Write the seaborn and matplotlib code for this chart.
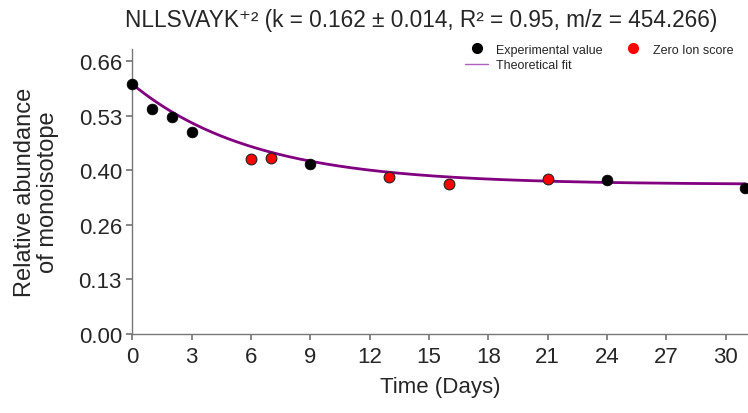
import numpy as np
import pandas as pd
import matplotlib
matplotlib.use("Agg")
import matplotlib.pyplot as plt
from matplotlib.lines import Line2D
import seaborn as sns

days = [0, 1, 2, 3, 6, 7, 9, 13, 16, 21, 24, 31]
abundance = [0.606, 0.544, 0.526, 0.489, 0.424, 0.427, 0.411, 0.380, 0.362, 0.376, 0.374, 0.354]
point_type = ["Experimental value"] * 4 + ["Zero Ion score"] * 2 + ["Experimental value"] \
    + ["Zero Ion score"] * 3 + ["Experimental value"] * 2

# Theoretical fit parameters (k from the title)
fit_k = 0.162
fit_plateau = 0.362
fit_amplitude = 0.243

y_ticks = [0.00, 0.13, 0.26, 0.40, 0.53, 0.66]
x_ticks = list(range(0, 31, 3))

df = pd.DataFrame({"Day": days, "Abundance": abundance, "Type": point_type})
t = np.linspace(0, 31, 300)
fit_df = pd.DataFrame({"Day": t, "Abundance": fit_plateau + fit_amplitude * np.exp(-fit_k * t)})

sns.set_theme(style="white")
plt.rcParams["font.family"] = ["Liberation Sans", "DejaVu Sans"]

fig = plt.figure(figsize=(7.48, 4.14), dpi=100)
ax = fig.add_axes([0.177, 0.191, 0.822, 0.688])

sns.lineplot(data=fit_df, x="Day", y="Abundance", color="#800080", linewidth=2,
             legend=False, ax=ax, zorder=2)
sns.scatterplot(data=df[df.Type == "Experimental value"], x="Day", y="Abundance",
                color="black", s=60, edgecolor="black", linewidth=0.5,
                ax=ax, zorder=3, clip_on=False, legend=False)
sns.scatterplot(data=df[df.Type == "Zero Ion score"], x="Day", y="Abundance",
                color="#ff0000", s=60, edgecolor="#222222", linewidth=0.8,
                ax=ax, zorder=3, clip_on=False, legend=False)

ax.set_xlim(0, 31.1)
ax.set_ylim(0, 0.69)
ax.set_xticks(x_ticks)
ax.set_yticks([0.66 * i / 5 for i in range(6)])
ax.set_yticklabels([f"{v:.2f}" for v in y_ticks])
ax.tick_params(axis="both", labelsize=16, length=4, color="#777777", direction="out",
               bottom=True, left=True)
ax.tick_params(axis="x", pad=5)
ax.set_xlabel("Time (Days)", fontsize=16, labelpad=6)
ax.set_ylabel("Relative abundance\nof monoisotope", fontsize=17, labelpad=14, linespacing=1.05)
fig.text(0.563, 0.95, "NLLSVAYK⁺² (k = 0.162 ± 0.014, R² = 0.95, m/z = 454.266)",
         fontsize=16.3, ha="center", va="center")

for side in ["top", "right"]:
    ax.spines[side].set_visible(False)
for side in ["left", "bottom"]:
    ax.spines[side].set_color("#777777")
    ax.spines[side].set_linewidth(1)

handles = [
    Line2D([], [], marker="o", color="black", linestyle="none", markersize=7),
    Line2D([], [], color="#b060c0", linewidth=1),
    Line2D([], [], marker="o", color="#ff0000", linestyle="none", markersize=7),
]
labels = ["Experimental value", "Theoretical fit", "Zero Ion score"]
fig.legend(handles, labels, ncol=2, fontsize=9, frameon=False, loc="upper left",
           bbox_to_anchor=(0.6217, 0.8925), bbox_transform=fig.transFigure,
           borderpad=0, borderaxespad=0, handlelength=1.85, handletextpad=0.62,
           columnspacing=1.54, labelspacing=0.3)

plt.savefig("out.png", dpi=100)
